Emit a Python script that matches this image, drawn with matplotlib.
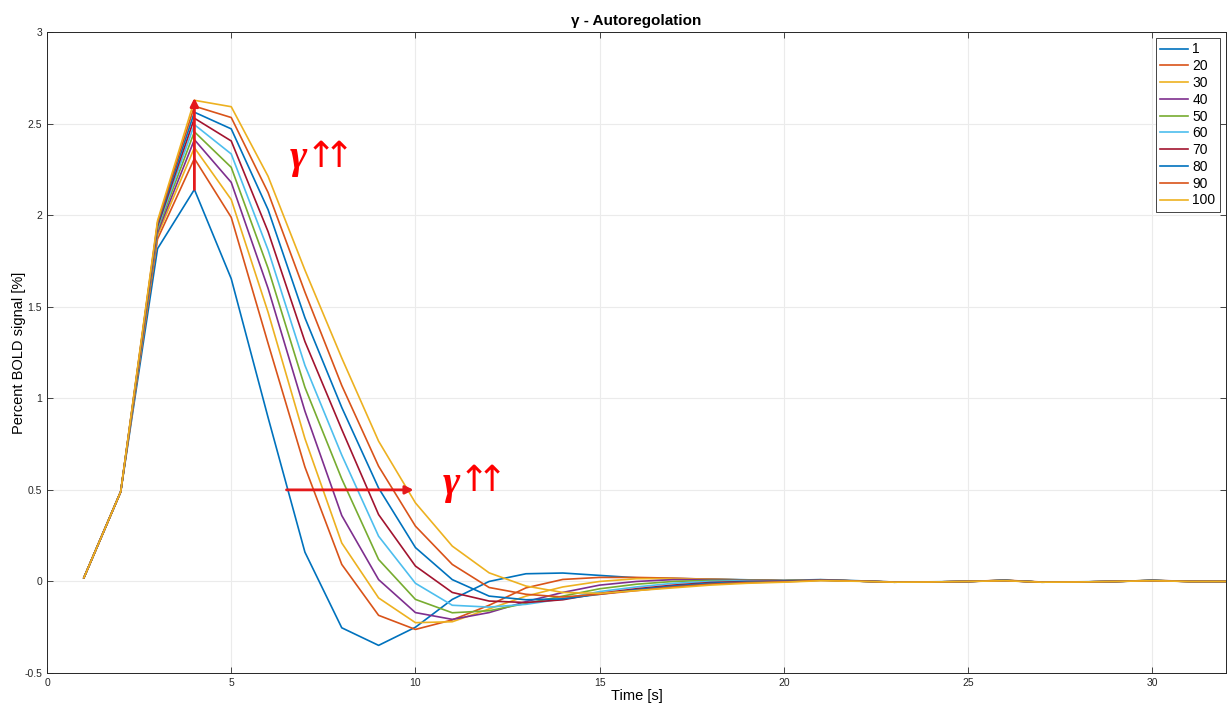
import matplotlib.pyplot as plt

# time axis [s]
time = list(range(1, 33))

labels = ['1', '20', '30', '40', '50', '60', '70', '80', '90', '100']

# Percent BOLD signal for each gamma value
bold_1 = [0.02, 0.49, 1.817, 2.14, 1.653, 0.895, 0.16, -0.253, -0.349, -0.25, -0.098, 0.0,
          0.042, 0.046, 0.033, 0.02, 0.016, 0.013, 0.009, 0.006, 0.01, 0.004, -0.003, -0.002,
          0.0, 0.006, -0.004, -0.002, 0.0, 0.004, 0.001, 0.0]
bold_20 = [0.02, 0.49, 1.87, 2.309, 1.988, 1.30, 0.625, 0.093, -0.185, -0.262, -0.21, -0.13,
           -0.035, 0.011, 0.022, 0.022, 0.018, 0.012, 0.008, 0.004, 0.008, 0.003, -0.003, -0.003,
           0.0, 0.007, -0.003, -0.003, 0.0, 0.005, 0.0, 0.0]
bold_30 = [0.02, 0.49, 1.89, 2.368, 2.085, 1.47, 0.78, 0.21, -0.09, -0.225, -0.22, -0.15,
           -0.08, -0.03, 0.0, 0.015, 0.016, 0.012, 0.008, 0.004, 0.008, 0.002, -0.004, -0.003,
           0.0, 0.006, -0.004, -0.003, 0.0, 0.006, 0.0, 0.0]
bold_40 = [0.02, 0.49, 1.905, 2.412, 2.179, 1.60, 0.93, 0.36, 0.01, -0.17, -0.207, -0.17,
           -0.11, -0.06, -0.02, 0.0, 0.01, 0.01, 0.008, 0.004, 0.009, 0.002, -0.004, -0.003,
           0.0, 0.006, -0.004, -0.003, 0.0, 0.006, 0.001, 0.0]
bold_50 = [0.02, 0.49, 1.92, 2.455, 2.261, 1.71, 1.06, 0.56, 0.12, -0.098, -0.171, -0.16,
           -0.12, -0.08, -0.04, -0.015, 0.0, 0.006, 0.006, 0.004, 0.009, 0.002, -0.004, -0.003,
           0.0, 0.006, -0.004, -0.003, 0.0, 0.006, 0.0, 0.0]
bold_60 = [0.02, 0.49, 1.93, 2.494, 2.334, 1.81, 1.18, 0.69, 0.247, -0.01, -0.13, -0.14,
           -0.125, -0.095, -0.055, -0.03, -0.01, 0.0, 0.004, 0.003, 0.008, 0.002, -0.004, -0.003,
           0.0, 0.005, -0.004, -0.003, 0.0, 0.005, 0.0, 0.0]
bold_70 = [0.02, 0.49, 1.94, 2.529, 2.405, 1.91, 1.31, 0.83, 0.365, 0.084, -0.06, -0.107,
           -0.115, -0.1, -0.065, -0.04, -0.02, -0.006, 0.0, 0.002, 0.008, 0.002, -0.004, -0.003,
           0.0, 0.005, -0.004, -0.003, 0.0, 0.005, 0.0, 0.0]
bold_80 = [0.02, 0.49, 1.95, 2.562, 2.471, 2.03, 1.44, 0.95, 0.51, 0.185, 0.01, -0.08,
           -0.1, -0.095, -0.07, -0.045, -0.025, -0.01, -0.003, 0.0, 0.007, 0.002, -0.004, -0.003,
           0.0, 0.005, -0.004, -0.003, 0.0, 0.005, 0.0, 0.0]
bold_90 = [0.02, 0.49, 1.96, 2.595, 2.533, 2.124, 1.58, 1.07, 0.629, 0.302, 0.093, -0.033,
           -0.07, -0.085, -0.07, -0.05, -0.03, -0.015, -0.006, -0.002, 0.006, 0.002, -0.004, -0.003,
           0.0, 0.004, -0.004, -0.003, 0.0, 0.004, 0.0, 0.0]
bold_100 = [0.02, 0.49, 1.97, 2.627, 2.592, 2.212, 1.70, 1.22, 0.766, 0.429, 0.193, 0.047,
            -0.025, -0.06, -0.065, -0.05, -0.035, -0.02, -0.01, -0.004, 0.004, 0.001, -0.004, -0.003,
            0.0, 0.004, -0.004, -0.003, 0.0, 0.004, 0.0, 0.0]

series = [bold_1, bold_20, bold_30, bold_40, bold_50, bold_60, bold_70, bold_80, bold_90, bold_100]

colors = ['#0072BD', '#D95319', '#EDB120', '#7E2F8E', '#77AC30',
          '#4DBEEE', '#A2142F', '#0072BD', '#D95319', '#EDB120']

plt.rcParams['font.family'] = ['Liberation Sans', 'DejaVu Sans']

fig = plt.figure(figsize=(12.28, 7.06), dpi=100)
ax = fig.add_axes([0.0383, 0.0467, 0.960, 0.908])

for y, lab, c in zip(series, labels, colors):
    ax.plot(time, y, color=c, linewidth=1.2, label=lab)

ax.set_xlim(0, 32)
ax.set_ylim(-0.5, 3)
ax.set_xticks([0, 5, 10, 15, 20, 25, 30])
ax.set_yticks([-0.5, 0, 0.5, 1, 1.5, 2, 2.5, 3])
ax.set_yticklabels(['-0.5', '0', '0.5', '1', '1.5', '2', '2.5', '3'])
ax.grid(True, color='#ebebeb', linewidth=0.8)
ax.set_axisbelow(True)
ax.tick_params(direction='in', labelsize=7.5, colors='#262626', length=4, width=0.6,
               top=True, right=True, labeltop=False, labelright=False)
for s in ax.spines.values():
    s.set_color('#262626')
    s.set_linewidth(0.7)

ax.set_title('γ - Autoregolation', fontsize=11, fontweight='bold', pad=5)
ax.set_xlabel('Time [s]', fontsize=10.5, labelpad=1)
ax.set_ylabel('Percent BOLD signal [%]', fontsize=10.5, labelpad=-1)

leg = ax.legend(loc='upper right', fontsize=10, handlelength=2.0, handletextpad=0.3,
                labelspacing=0.2, borderpad=0.35, fancybox=False, framealpha=1,
                edgecolor='#262626', borderaxespad=0.4)
leg.get_frame().set_linewidth(0.6)

# red annotations
ax.annotate('', xy=(4, 2.64), xytext=(4, 2.14),
            arrowprops=dict(arrowstyle='-|>', color='#e41a1c', lw=2, mutation_scale=12,
                            shrinkA=0, shrinkB=0))
ax.annotate('', xy=(9.95, 0.5), xytext=(6.5, 0.5),
            arrowprops=dict(arrowstyle='-|>', color='#e41a1c', lw=2, mutation_scale=12,
                            shrinkA=0, shrinkB=0))

serif = ['Liberation Serif', 'DejaVu Serif']
ax.text(6.6, 2.31, 'γ', color='red', fontsize=30, fontweight='bold', fontstyle='italic',
        family=serif, va='center', ha='left')
ax.text(7.43, 2.32, '↑', color='red', fontsize=26, family=['DejaVu Sans'],
        va='center', ha='center')
ax.text(7.93, 2.32, '↑', color='red', fontsize=26, family=['DejaVu Sans'],
        va='center', ha='center')
ax.text(10.75, 0.53, 'γ', color='red', fontsize=30, fontweight='bold', fontstyle='italic',
        family=serif, va='center', ha='left')
ax.text(11.58, 0.55, '↑', color='red', fontsize=26, family=['DejaVu Sans'],
        va='center', ha='center')
ax.text(12.08, 0.55, '↑', color='red', fontsize=26, family=['DejaVu Sans'],
        va='center', ha='center')

fig.savefig('out.png', dpi=100)
